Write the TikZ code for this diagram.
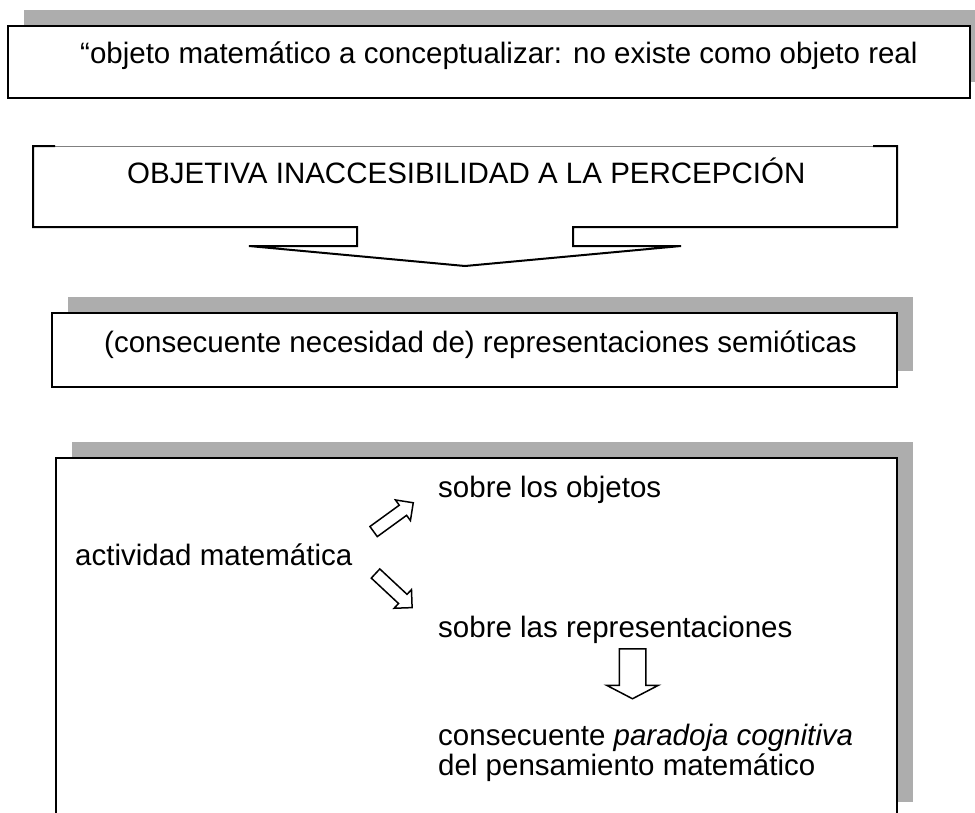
\documentclass[tikz,border=0pt]{standalone}
\usepackage{fontspec}
\setmainfont{Liberation Sans}
\usetikzlibrary{shapes.arrows}
\tikzstyle{box}=[line width=2pt,black]
\tikzstyle{grayshadow}=[fill=black!32,draw=none]
\tikzstyle{txt}=[anchor=base west,inner sep=0pt,font=\fontsize{29.5}{30}\selectfont]
\tikzstyle{blockarrow}=[single arrow,draw,line width=1.5pt,fill=white,inner xsep=0pt,anchor=tail]

\begin{document}
\begin{tikzpicture}[x=1pt,y=-1pt]
  \def\s{16}   % shadow offset
  \def\R{897}  % right edge of the lower boxes
  \useasboundingbox (0,0) rectangle (975,812);

  % FIRST BOX
  \fill[grayshadow] (8+\s,26-\s) rectangle (970+\s,98-\s);
  \draw[box,fill=white] (8,26) rectangle (970,98);
  \node[txt] (objeto) at (80,63) {“objeto matemático a conceptualizar: no existe como objeto real};

  % CALLOUT
  \draw[gray,line width=0.8pt] (33,146) -- (\R,146);
  \draw[box,line join=miter] (55,146) -- (33,146) -- (33,227) -- (357,227) -- (357,246) -- (249,246)
    -- (465,266) -- (681,246) -- (573,246) -- (573,227) -- (\R,227) -- (\R,146) -- (873,146);
  \node[txt] (percepcion) at (127,183) {OBJETIVA INACCESIBILIDAD A LA PERCEPCIÓN};

  % SECOND BOX
  \fill[grayshadow] (52+\s,313-\s) rectangle (\R+\s,387-\s);
  \draw[box,fill=white] (52,313) rectangle (\R,387);
  \node[txt] (semiotica) at (104,352) {(consecuente necesidad de) representaciones semióticas};

  % THIRD BOX
  \fill[grayshadow] (56+\s,458-\s) rectangle (\R+\s,818-\s);
  \draw[box,fill=white] (56,458) rectangle (\R,818);
  \node[txt] (actividad) at (75,565) {actividad matemática};
  \node[txt] (objetos) at (438,497) {sobre los objetos};
  \node[txt] (represent) at (438,637) {sobre las representaciones};
  \node[txt] (paradoja) at (438,745) {consecuente \textit{paradoja cognitiva}};
  \node[txt] (pensamiento) at (438,775) {del pensamiento matemático};

  % ARROWS
  \node[blockarrow,inner ysep=5.5pt,single arrow head extend=6.5pt,minimum height=49pt,rotate=36]
    (haciaObjetos) at (373,532) {};
  \node[blockarrow,inner ysep=5.5pt,single arrow head extend=6.5pt,minimum height=50pt,rotate=-43]
    (haciaRepr) at (375,573) {};
  \node[blockarrow,inner ysep=12.5pt,single arrow head extend=12.5pt,single arrow tip angle=125,
    minimum height=50pt,rotate=-90] (haciaParadoja) at (632.5,648) {};
\end{tikzpicture}
\end{document}
